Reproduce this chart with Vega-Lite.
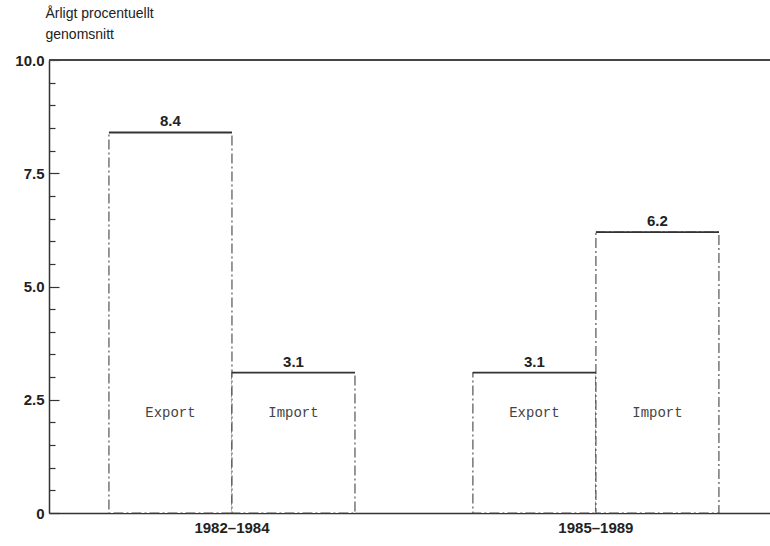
{
  "$schema": "https://vega.github.io/schema/vega-lite/v6.json",
  "width": 721,
  "height": 453,
  "autosize": "none",
  "padding": {"left": 49, "top": 60, "right": 0, "bottom": 33},
  "background": "white",
  "config": {"view": {"stroke": null}, "font": "Liberation Sans"},
  "data": {"values": [
    {"period": "1982–1984", "type": "Export", "value": 8.4},
    {"period": "1982–1984", "type": "Import", "value": 3.1},
    {"period": "1985–1989", "type": "Export", "value": 3.1},
    {"period": "1985–1989", "type": "Import", "value": 6.2}
  ]},
  "encoding": {
    "x": {"field": "period", "type": "nominal",
      "scale": {"paddingInner": 0.324, "paddingOuter": 0.1525, "align": 0.54},
      "axis": {"title": null, "labelAngle": 0, "ticks": false, "labelFontSize": 15, "labelFontWeight": "bold", "labelColor": "#222", "labelPadding": 7, "domainColor": "#333", "domainWidth": 1.5}},
    "xOffset": {"field": "type", "type": "nominal", "scale": {"paddingInner": 0, "paddingOuter": 0}},
    "y": {"field": "value", "type": "quantitative",
      "scale": {"domain": [0, 10], "nice": false},
      "axis": {
        "title": ["Årligt procentuellt", "genomsnitt"],
        "titleAngle": 0, "titleAlign": "left", "titleBaseline": "alphabetic",
        "titleX": -4, "titleY": -43, "titleFontSize": 14, "titleFontWeight": "normal", "titleColor": "#222", "titleLineHeight": 21,
        "values": [0, 0.5, 1, 1.5, 2, 2.5, 3, 3.5, 4, 4.5, 5, 5.5, 6, 6.5, 7, 7.5, 8, 8.5, 9, 9.5, 10],
        "tickCount": 40,
        "labelExpr": "datum.value == 0 ? '0' : (datum.value % 2.5 == 0 ? format(datum.value, '.1f') : '')",
        "labelOverlap": false,
        "labelBound": false,
        "tickSize": {"condition": {"test": "datum.value % 2.5 == 0", "value": -10}, "value": -6},
        "tickColor": "#333", "tickWidth": 1.2,
        "domainColor": "#333", "domainWidth": 1.5,
        "grid": false, "labelFontSize": 15, "labelFontWeight": "bold", "labelColor": "#222", "labelPadding": 15
      }}
  },
  "layer": [
    {
      "mark": {"type": "bar", "fill": "white", "stroke": "#444", "strokeWidth": 1.1, "strokeDash": [10, 3, 2, 3]}
    },
    {
      "mark": {"type": "bar", "fill": null, "stroke": "#333", "strokeWidth": 1.8},
      "encoding": {
        "y2": {"field": "value"}
      }
    },
    {
      "mark": {"type": "text", "dy": -11, "fontSize": 15, "fontWeight": "bold", "color": "#222"},
      "encoding": {
        "text": {"field": "value", "type": "quantitative", "format": ".1f"}
      }
    },
    {
      "mark": {"type": "text", "font": "Liberation Mono", "fontSize": 14, "color": "#444"},
      "encoding": {
        "y": {"datum": 2.2, "type": "quantitative",
          "axis": {
            "title": ["Årligt procentuellt", "genomsnitt"],
            "titleAngle": 0, "titleAlign": "left", "titleBaseline": "alphabetic",
            "titleX": -4, "titleY": -43, "titleFontSize": 14, "titleFontWeight": "normal", "titleColor": "#222", "titleLineHeight": 21,
            "values": [0, 0.5, 1, 1.5, 2, 2.5, 3, 3.5, 4, 4.5, 5, 5.5, 6, 6.5, 7, 7.5, 8, 8.5, 9, 9.5, 10],
            "tickCount": 40,
            "labelExpr": "datum.value == 0 ? '0' : (datum.value % 2.5 == 0 ? format(datum.value, '.1f') : '')",
            "labelOverlap": false,
            "labelBound": false,
            "tickSize": {"condition": {"test": "datum.value % 2.5 == 0", "value": -10}, "value": -6},
            "tickColor": "#333", "tickWidth": 1.2,
            "domainColor": "#333", "domainWidth": 1.5,
            "grid": false, "labelFontSize": 15, "labelFontWeight": "bold", "labelColor": "#222", "labelPadding": 15
          }},
        "text": {"field": "type", "type": "nominal"}
      }
    },
    {
      "mark": {"type": "rule", "color": "#444", "strokeWidth": 1.5},
      "encoding": {
        "x": null, "xOffset": null,
        "y": {"datum": 10, "type": "quantitative",
          "axis": {
            "title": ["Årligt procentuellt", "genomsnitt"],
            "titleAngle": 0, "titleAlign": "left", "titleBaseline": "alphabetic",
            "titleX": -4, "titleY": -43, "titleFontSize": 14, "titleFontWeight": "normal", "titleColor": "#222", "titleLineHeight": 21,
            "values": [0, 0.5, 1, 1.5, 2, 2.5, 3, 3.5, 4, 4.5, 5, 5.5, 6, 6.5, 7, 7.5, 8, 8.5, 9, 9.5, 10],
            "tickCount": 40,
            "labelExpr": "datum.value == 0 ? '0' : (datum.value % 2.5 == 0 ? format(datum.value, '.1f') : '')",
            "labelOverlap": false,
            "labelBound": false,
            "tickSize": {"condition": {"test": "datum.value % 2.5 == 0", "value": -10}, "value": -6},
            "tickColor": "#333", "tickWidth": 1.2,
            "domainColor": "#333", "domainWidth": 1.5,
            "grid": false, "labelFontSize": 15, "labelFontWeight": "bold", "labelColor": "#222", "labelPadding": 15
          }}
      }
    }
  ]
}
